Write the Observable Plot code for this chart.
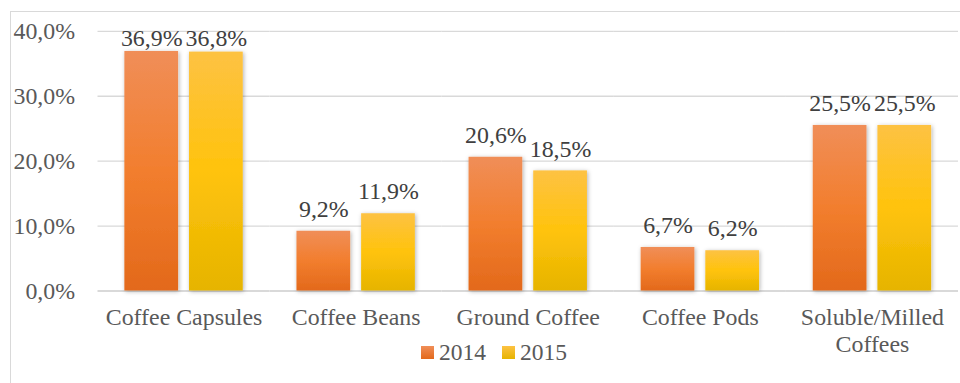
<!DOCTYPE html>
<html>
<head>
<meta charset="utf-8">
<script src="https://cdn.jsdelivr.net/npm/d3@7"></script>
<script src="https://cdn.jsdelivr.net/npm/@observablehq/plot@0.6"></script>
<style>
  html, body { margin: 0; padding: 0; background: #fff; }
  body { width: 960px; height: 383px; overflow: hidden; position: relative; font-family: "Liberation Serif", "Times New Roman", serif; }
  #frame { position: absolute; left: 10px; top: 11px; width: 980px; height: 420px; border: 1.5px solid #d9d9d9; box-sizing: border-box; }
  #chart { position: absolute; left: 0; top: 0; }
  #legend { position: absolute; left: 421px; top: 339px; display: flex; align-items: center; font-size: 23.5px; color: #595959; }
  #legend .sw { width: 13px; height: 13px; display: inline-block; margin-right: 5px; }
  #legend .item { display: flex; align-items: center; margin-right: 16px; }
</style>
</head>
<body>
<svg width="0" height="0" style="position:absolute">
  <defs>
    <linearGradient id="g2014" x1="0" y1="0" x2="0" y2="1">
      <stop offset="0" stop-color="#F08E58"/>
      <stop offset="0.5" stop-color="#F27E2E"/>
      <stop offset="1" stop-color="#E3691B"/>
    </linearGradient>
    <linearGradient id="g2015" x1="0" y1="0" x2="0" y2="1">
      <stop offset="0" stop-color="#FDC243"/>
      <stop offset="0.5" stop-color="#FFC30C"/>
      <stop offset="1" stop-color="#E6B400"/>
    </linearGradient>
    <filter id="shadow" x="-20%" y="-20%" width="140%" height="140%">
      <feDropShadow dx="1" dy="1" stdDeviation="2" flood-color="#000" flood-opacity="0.3"/>
    </filter>
  </defs>
</svg>
<div id="frame"></div>
<div id="chart"></div>
<div id="legend"></div>
<script>
const categories = ["Coffee Capsules", "Coffee Beans", "Ground Coffee", "Coffee Pods", "Soluble/Milled\nCoffees"];
const years = [2014, 2015];
const values2014 = [0.369, 0.092, 0.206, 0.067, 0.255];
const values2015 = [0.368, 0.119, 0.185, 0.062, 0.255];
const yTicks = [0, 0.1, 0.2, 0.3, 0.4];
const baseColors = ["#f27e2e", "#ffc30c"];

const data = [];
categories.forEach((c, i) => {
  data.push({category: c, year: 2014, value: values2014[i]});
  data.push({category: c, year: 2015, value: values2015[i]});
});

const pct = d => (d * 100).toFixed(1).replace(".", ",") + "%";

const chart = Plot.plot({
  width: 965,
  height: 383,
  marginLeft: 96,
  marginRight: 0,
  marginTop: 31,
  marginBottom: 91,
  style: {fontFamily: "'Liberation Serif', 'Times New Roman', serif", fontSize: "24px", background: "transparent", overflow: "visible"},
  fx: {domain: categories, paddingInner: 0, paddingOuter: 0, axis: null},
  x: {domain: years, paddingInner: 1/6, paddingOuter: 0.4, axis: null},
  y: {domain: [0, 0.4], axis: null},
  color: {domain: years, range: baseColors},
  marks: [
    Plot.ruleY(yTicks.filter(t => t > 0), {stroke: "#d9d9d9", strokeWidth: 1.3, strokeOpacity: 1}),
    Plot.ruleY([0], {stroke: "#d9d9d9", strokeWidth: 2, strokeOpacity: 1}),
    Plot.axisY({ticks: yTicks, tickFormat: pct, tickSize: 0, tickPadding: 23, fill: "#595959", fontSize: 24, label: null, facetAnchor: "left"}),
    Plot.barY(data, {fx: "category", x: "year", y: "value", fill: "year"}),
    Plot.text(data, {
      fx: "category", x: "year",
      y: d => Math.min(d.value + 0.0337, 0.389),
      text: d => pct(d.value),
      fill: "#404040", fontSize: 24, textAnchor: "middle", lineAnchor: "middle"
    }),
    Plot.text(categories, {
      fx: d => d, text: d => d, frameAnchor: "bottom", lineAnchor: "top",
      dy: 15, lineHeight: 1.13, fill: "#595959", fontSize: 24
    })
  ]
});

// apply gradients + shadow to bars (matched by their scale colour)
const norm = c => { const k = d3.color(c); return k ? k.formatHex().toLowerCase() : ""; };
const gradMap = {[norm(baseColors[0])]: "g2014", [norm(baseColors[1])]: "g2015"};
chart.querySelectorAll("rect").forEach(r => {
  let fl = r.getAttribute("fill");
  if (!fl) fl = r.parentNode && r.parentNode.getAttribute ? r.parentNode.getAttribute("fill") : null;
  if (!fl) return;
  const id = gradMap[norm(fl)];
  if (id) {
    r.style.fill = `url(#${id}) ${norm(fl)}`;
    r.style.filter = "url(#shadow)";
  }
});

document.getElementById("chart").appendChild(chart);

// legend
const legend = d3.select("#legend");
const legendFills = {2014: "linear-gradient(#F08E58, #E3691B)", 2015: "linear-gradient(#FDC243, #E6B400)"};
years.forEach(y => {
  const it = legend.append("div").attr("class", "item");
  it.append("span").attr("class", "sw").style("background", legendFills[y]);
  it.append("span").text(y);
});
</script>
</body>
</html>
